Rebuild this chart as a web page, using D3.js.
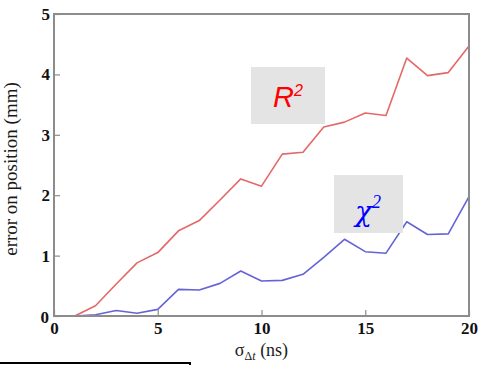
<!DOCTYPE html>
<html>
<head>
<meta charset="utf-8">
<script src="https://cdn.jsdelivr.net/npm/d3@7"></script>
<style>
  body { margin: 0; background: #fff; }
  svg { display: block; }
</style>
</head>
<body>
<svg id="chart" width="478" height="365"></svg>
<script>
// Timing resolution (ns)
const sigma = [0, 1, 2, 3, 4, 5, 6, 7, 8, 9, 10, 11, 12, 13, 14, 15, 16, 17, 18, 19, 20];
// Position error (mm) for the R² fit
const r2Error = [0, 0, 0.17, 0.53, 0.88, 1.05, 1.41, 1.58, 1.92, 2.27, 2.15, 2.68, 2.71, 3.13, 3.21, 3.36, 3.32, 4.27, 3.98, 4.03, 4.47];
// Position error (mm) for the χ² fit
const chi2Error = [0, 0, 0.02, 0.09, 0.045, 0.11, 0.44, 0.43, 0.54, 0.745, 0.58, 0.59, 0.69, 0.97, 1.27, 1.065, 1.04, 1.56, 1.35, 1.36, 1.975];
const xTicks = [0, 5, 10, 15, 20];
const yTicks = [0, 1, 2, 3, 4, 5];

const W = 478, H = 365;
const margin = { left: 54, right: 9, top: 14, bottom: 49 };

const svg = d3.select("#chart");
const x = d3.scaleLinear().domain([0, 20]).range([margin.left, W - margin.right]);
const y = d3.scaleLinear().domain([0, 5]).range([H - margin.bottom, margin.top]);

const frameColor = "#8c8c8c";
const serif = "'Liberation Serif', 'Times New Roman', serif";

// Data lines
const line = d3.line().x((d, i) => x(sigma[i])).y(d => y(d));
svg.append("path").datum(r2Error)
  .attr("d", line).attr("fill", "none")
  .attr("stroke", "#e46868").attr("stroke-width", 1.6).attr("stroke-linejoin", "round");
svg.append("path").datum(chi2Error)
  .attr("d", line).attr("fill", "none")
  .attr("stroke", "#6464d6").attr("stroke-width", 1.6).attr("stroke-linejoin", "round");

// Axes with inward ticks
const fmt = d3.format("d");
const xAxis = svg.append("g")
  .attr("transform", `translate(0,${y(0)})`)
  .call(d3.axisBottom(x).tickValues(xTicks).tickFormat(fmt).tickSizeInner(-6).tickSizeOuter(0).tickPadding(6));
const yAxis = svg.append("g")
  .attr("transform", `translate(${x(0)},0)`)
  .call(d3.axisLeft(y).tickValues(yTicks).tickFormat(fmt).tickSizeInner(-6).tickSizeOuter(0).tickPadding(4));

[xAxis, yAxis].forEach(g => {
  g.select(".domain").remove();
  g.selectAll(".tick line").attr("stroke", frameColor).attr("stroke-width", 1.2);
  g.selectAll(".tick text")
    .attr("fill", "#111")
    .style("font-family", serif)
    .style("font-size", "17px")
    .style("font-weight", "600");
});
yAxis.selectAll(".tick text").filter(d => d === 0).attr("x", -5).attr("dy", "0.4em");

// Plot frame
svg.append("rect")
  .attr("x", x(0)).attr("y", y(5))
  .attr("width", x(20) - x(0)).attr("height", y(0) - y(5))
  .attr("fill", "none").attr("stroke", frameColor).attr("stroke-width", 2);

// Axis titles
svg.append("text")
  .attr("transform", `translate(17,${(y(0) + y(5)) / 2 + 4}) rotate(-90)`)
  .attr("text-anchor", "middle")
  .style("font-family", serif).style("font-size", "19px").attr("fill", "#1a1a1a")
  .text("error on position (mm)");

const xt = svg.append("text")
  .attr("x", (x(0) + x(20)) / 2).attr("y", 356)
  .attr("text-anchor", "middle")
  .style("font-family", serif).style("font-size", "18px").attr("fill", "#1a1a1a");
xt.append("tspan").text("σ");
xt.append("tspan").attr("dy", 4).style("font-size", "12px").text("Δ");
xt.append("tspan").style("font-size", "12px").style("font-style", "italic").text("t");
xt.append("tspan").attr("dy", -4).text(" (ns)");

// Series labels
function labelBox(bx, by, bw, bh) {
  svg.append("rect").attr("x", bx).attr("y", by).attr("width", bw).attr("height", bh).attr("fill", "#e4e4e4");
}
labelBox(251, 67, 74, 57);
const r2 = svg.append("text").attr("x", 273).attr("y", 107)
  .style("font-family", "'Liberation Sans', Arial, sans-serif").style("font-style", "italic")
  .style("font-size", "29px").attr("fill", "#ff0000");
r2.append("tspan").text("R");
r2.append("tspan").attr("dy", -11).style("font-size", "16px").text("2");

labelBox(334, 175, 69, 58);
const c2 = svg.append("text").attr("x", 355).attr("y", 221)
  .style("font-family", "'DejaVu Serif', serif").style("font-style", "italic")
  .style("font-size", "28px").attr("fill", "#0000ff");
c2.append("tspan").text("χ");
c2.append("tspan").attr("dy", -13).style("font-size", "18px").style("font-family", serif).text("2");

// Rule below the figure
svg.append("path")
  .attr("d", "M0,363 H190 V366")
  .attr("fill", "none").attr("stroke", "#000").attr("stroke-width", 2);
</script>
</body>
</html>
